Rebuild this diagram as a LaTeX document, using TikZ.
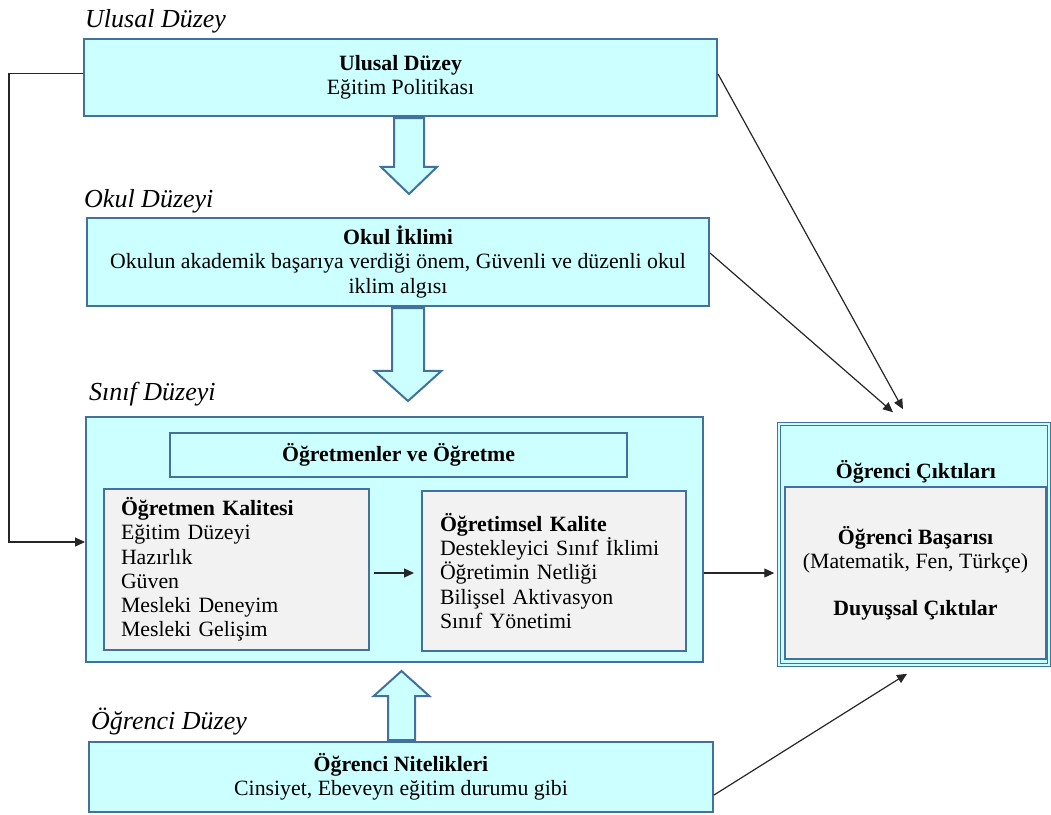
\documentclass[tikz,border=0pt]{standalone}
\usepackage{fontspec}
\setmainfont{Liberation Serif}
\usetikzlibrary{arrows.meta,shapes.arrows}
\definecolor{boxcyan}{HTML}{CCFFFF}
\definecolor{boxblue}{HTML}{41719C}
\definecolor{boxgray}{HTML}{F2F2F2}

\begin{document}
\begin{tikzpicture}[x=1pt, y=-1pt,
  box/.style={draw=boxblue, fill=boxcyan, line width=2pt, align=center, inner sep=0pt, font=\fontsize{21.8}{24.2}\selectfont},
  graybox/.style={box, fill=boxgray, align=left},
  level/.style={anchor=base west, inner sep=0pt, font=\fontsize{26}{30}\selectfont\itshape},
  blockarrow/.style={single arrow, draw=boxblue, fill=boxcyan, line width=2pt, inner ysep=0pt, anchor=tail},
  link/.style={draw=black!85, line width=1.2pt, -{Triangle[length=10pt, width=9pt]}}]
\useasboundingbox (0,0) rectangle (1051,814);

% level labels
\node[level] (lulusal) at (85,27) {Ulusal Düzey};
\node[level] (lokul) at (84,207) {Okul Düzeyi};
\node[level] (lsinif) at (89,400) {Sınıf Düzeyi};
\node[level] (logrenci) at (91,729) {Öğrenci Düzey};

% boxes
\node[box, minimum width=633pt, minimum height=77pt] (ulusal) at (400.5,77.5) {\textbf{Ulusal Düzey}\\Eğitim Politikası};
\node[box, minimum width=622pt, minimum height=88pt] (okul) at (398,262) {\textbf{Okul İklimi}\\Okulun akademik başarıya verdiği önem, Güvenli ve düzenli okul\\iklim algısı};
\node[box, minimum width=617pt, minimum height=245pt] (sinif) at (394.5,539.5) {};
\node[box, minimum width=457pt, minimum height=44pt] (ogretmen) at (398.5,455) {\textbf{Öğretmenler ve Öğretme}};
\node[graybox, text width=231pt, inner xsep=17pt, minimum height=161pt] (kalite) at (236.5,569.5) {\textbf{Öğretmen Kalitesi}\\Eğitim Düzeyi\\Hazırlık\\Güven\\Mesleki Deneyim\\Mesleki Gelişim};
\node[graybox, text width=228pt, inner xsep=18pt, minimum height=160pt] (ogretim) at (554,571) {\textbf{Öğretimsel Kalite}\\Destekleyici Sınıf İklimi\\Öğretimin Netliği\\Bilişsel Aktivasyon\\Sınıf Yönetimi};
\node[box, line width=1.5pt, double=boxcyan, double distance=1.5pt, minimum width=270pt, minimum height=241pt] (cikti) at (914,544.5) {};
\node[inner sep=0pt, font=\fontsize{21.8}{24.2}\selectfont\bfseries] (ciktibaslik) at (916,472) {Öğrenci Çıktıları};
\node[box, fill=boxgray, minimum width=261pt, minimum height=172pt] (basari) at (915.5,573) {\textbf{Öğrenci Başarısı}\\(Matematik, Fen, Türkçe)\\[23pt]\textbf{Duyuşsal Çıktılar}};
\node[box, minimum width=624pt, minimum height=70pt] (nitelik) at (401,777) {\textbf{Öğrenci Nitelikleri}\\Cinsiyet, Ebeveyn eğitim durumu gibi};

% block arrows
\node[blockarrow, shape border rotate=270, inner xsep=14pt, single arrow head extend=13pt, single arrow tip angle=92, minimum height=76pt] (ok1) at ([xshift=8.5pt]ulusal.south) {};
\node[blockarrow, shape border rotate=270, inner xsep=15pt, single arrow head extend=17.5pt, single arrow tip angle=96, minimum height=93pt] (ok2) at ([xshift=10pt]okul.south) {};
\node[blockarrow, shape border rotate=90, inner xsep=12.5pt, single arrow head extend=14.5pt, single arrow tip angle=96, minimum height=69pt] (ok3) at ([xshift=0.5pt]nitelik.north) {};

% connectors
\draw[link] ([yshift=4pt]ulusal.west) -| ([xshift=-76pt,yshift=-2.5pt]sinif.west) -- ([yshift=-2.5pt]sinif.west);
\draw[link] ([yshift=3.5pt]ulusal.east) -- ([xshift=-11pt,yshift=14pt]cikti.north);
\draw[link] ([yshift=9pt]okul.east) -- ([xshift=-21pt,yshift=11pt]cikti.north);
\draw[link] ([xshift=4pt,yshift=-3.5pt]kalite.east) -- ([xshift=-7pt,yshift=-2pt]ogretim.west);
\draw[link] ([yshift=-33.5pt]sinif.east) -- ([xshift=-4pt,yshift=-28.5pt]cikti.west);
\draw[link] ([yshift=-18pt]nitelik.east) -- ([xshift=-7pt,yshift=-8pt]cikti.south);
\end{tikzpicture}
\end{document}
